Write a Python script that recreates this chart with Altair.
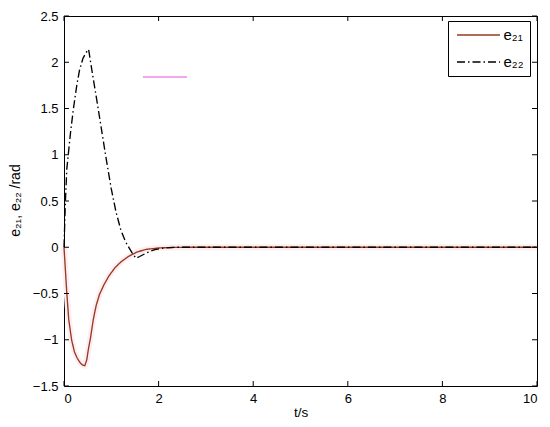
import altair as alt
import pandas as pd

# ---- data ----
t21 = [0, 0.03, 0.06, 0.1, 0.16, 0.22, 0.28, 0.35, 0.4, 0.44, 0.48, 0.51, 0.56, 0.62,
       0.68, 0.75, 0.85, 0.95, 1.08, 1.2, 1.36, 1.55, 1.75, 2.0, 2.3, 2.6, 4, 6, 8, 10]
e21 = [0, -0.25, -0.5, -0.78, -1.0, -1.13, -1.2, -1.255, -1.275, -1.28, -1.22, -1.12, -0.98,
       -0.78, -0.63, -0.51, -0.40, -0.31, -0.22, -0.16, -0.10, -0.05, -0.022, -0.008, -0.002,
       0, 0, 0, 0, 0]

t22 = [0, 0.03, 0.06, 0.09, 0.14, 0.2, 0.27, 0.33, 0.4, 0.46, 0.52, 0.6, 0.7, 0.8, 0.9,
       1.0, 1.1, 1.2, 1.3, 1.38, 1.44, 1.52, 1.6, 1.75, 1.92, 2.1, 2.4, 4, 6, 8, 10]
e22 = [0, 0.5, 0.85, 1.0, 1.25, 1.5, 1.75, 1.92, 2.04, 2.1, 2.14, 1.88, 1.57, 1.25, 0.93,
       0.63, 0.38, 0.19, 0.06, -0.01, -0.06, -0.12, -0.1, -0.06, -0.025, -0.008, 0,
       0, 0, 0, 0]

series_names = ["e₂₁", "e₂₂"]
series_colors = ["#983a1e", "#000000"]
series_dash = [[1, 0], [8, 3, 1.5, 3]]

x_ticks = [0, 2, 4, 6, 8, 10]
y_ticks = [-1.5, -1, -0.5, 0, 0.5, 1, 1.5, 2, 2.5]

artifact_t = [1.67, 2.6]
artifact_y = [1.84, 1.84]

W, H = 473, 370

rows = []
for t, v in zip(t21, e21):
    rows.append({"t": t, "v": v, "series": series_names[0], "order": len(rows)})
for t, v in zip(t22, e22):
    rows.append({"t": t, "v": v, "series": series_names[1], "order": len(rows)})
df = pd.DataFrame(rows)
df21 = df[df.series == series_names[0]]

xs = alt.Scale(domain=[0, 10], nice=False, zero=False)
ys = alt.Scale(domain=[-1.5, 2.5], nice=False, zero=False)

FONT = "Liberation Sans"
X_TITLE = "t/s"
Y_TITLE = "e₂₁, e₂₂ /rad"

xaxis = alt.Axis(values=x_ticks, tickSize=0, domain=False, grid=False, format="d",
                 labelFontSize=13, labelPadding=6, labelFont=FONT,
                 labelColor="black", titleFont=FONT, titleFontSize=13.5,
                 titleFontWeight="normal", titleColor="black",
                 titleBaseline="alphabetic", titleY=30)
yaxis = alt.Axis(values=y_ticks, tickSize=0, domain=False, grid=False, format=".1~f",
                 labelFontSize=13, labelPadding=6, labelFont=FONT,
                 labelColor="black", titleFont=FONT, titleFontSize=14,
                 titleFontWeight="normal", titleColor="black",
                 titleAngle=270, titleBaseline="alphabetic",
                 titleX=-45, titleY=184, titleAlign="center")


def X(field="t"):
    return alt.X(f"{field}:Q", scale=xs, title=X_TITLE, axis=xaxis)


def Y(field="v"):
    return alt.Y(f"{field}:Q", scale=ys, title=Y_TITLE, axis=yaxis)


halo = alt.Chart(df21).mark_line(color="#fdeef4", strokeWidth=6).encode(
    x=X(), y=Y(), order="order:Q",
)

artifact = alt.Chart(pd.DataFrame({"t": [artifact_t[0]], "t2": [artifact_t[1]], "v": [artifact_y[0]]})).mark_rule(
    color="#f4a6ea", strokeWidth=2
).encode(x=X(), x2="t2:Q", y=Y())

lines = alt.Chart(df).mark_line(strokeWidth=1.35).encode(
    x=X(), y=Y(),
    color=alt.Color("series:N",
                    scale=alt.Scale(domain=series_names, range=series_colors),
                    legend=alt.Legend(title=None, orient="none", legendX=384, legendY=5,
                                      strokeColor="black", fillColor="white", padding=6,
                                      symbolType="M-3.07,0H3.07", symbolSize=196,
                                      symbolStrokeWidth=1.35, symbolOffset=16.5,
                                      labelOffset=17, rowPadding=11,
                                      labelFontSize=15, labelFont=FONT, labelColor="black")),
    strokeDash=alt.StrokeDash("series:N",
                              scale=alt.Scale(domain=series_names, range=series_dash),
                              legend=None),
    order="order:Q",
)

bt = alt.Chart(pd.DataFrame({"t": x_ticks})).mark_rule(color="black").encode(
    x=X(), y=alt.value(H), y2=alt.value(H - 5))
tt = alt.Chart(pd.DataFrame({"t": x_ticks})).mark_rule(color="black").encode(
    x=X(), y=alt.value(0), y2=alt.value(5))
lt = alt.Chart(pd.DataFrame({"v": y_ticks})).mark_rule(color="black").encode(
    y=Y(), x=alt.value(0), x2=alt.value(5))
rt = alt.Chart(pd.DataFrame({"v": y_ticks})).mark_rule(color="black").encode(
    y=Y(), x=alt.value(W), x2=alt.value(W - 5))

chart = alt.layer(halo, artifact, lines, bt, tt, lt, rt).properties(
    width=W, height=H,
    autosize=alt.AutoSizeParams(type="none"),
    padding={"left": 56, "top": 8, "right": 5, "bottom": 33},
    background="white",
).configure_view(stroke="black", strokeWidth=1)

chart.save("out.html", embed_options={"renderer": "svg", "actions": False})
